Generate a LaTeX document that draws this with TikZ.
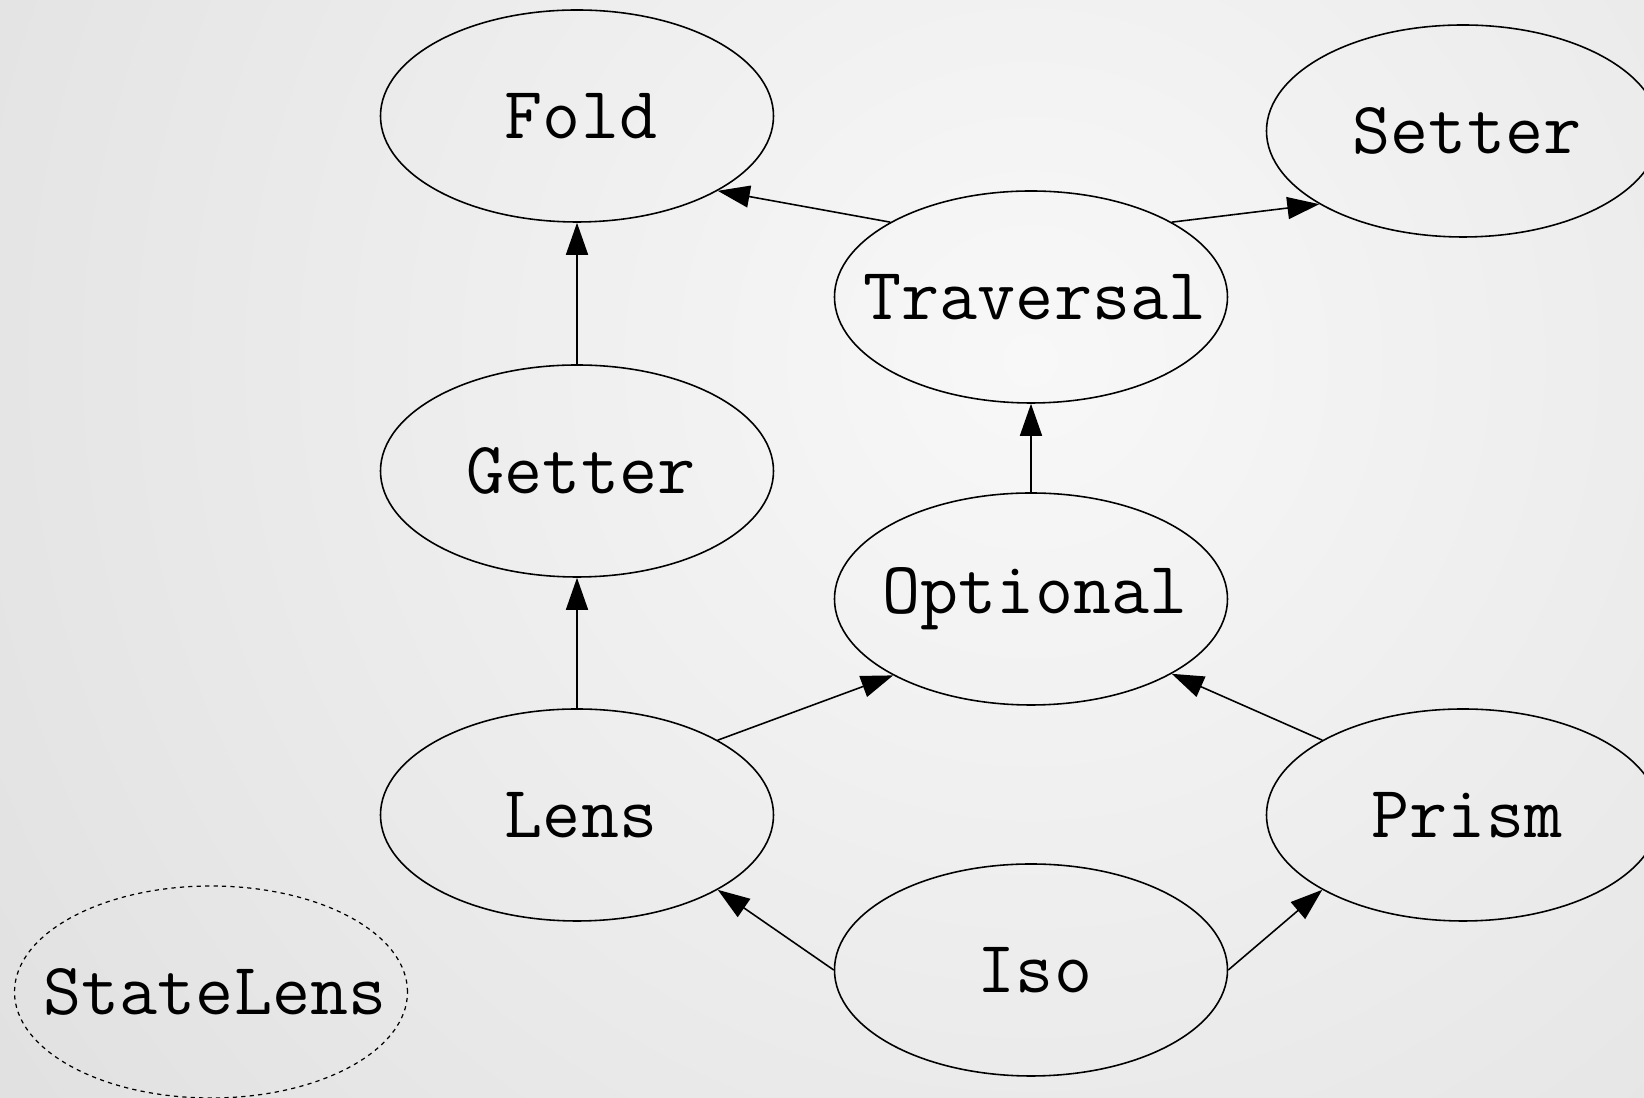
\documentclass[tikz,border=0pt]{standalone}
\usepackage{tikz}
\usepackage{fontspec}
\usetikzlibrary{shapes.geometric,arrows.meta}
\usepackage{xcolor}
\definecolor{bginner}{RGB}{248,248,248}
\definecolor{bgouter}{RGB}{224,224,224}
\newcommand{\optname}[1]{\makebox[0pt]{\hspace{0.08cm}#1}}

\begin{document}
\begin{tikzpicture}[
        optic/.style={ellipse, draw, line width=0.45pt, minimum width=3.93cm, minimum height=2.12cm, inner sep=0pt, font=\ttfamily\fontsize{21}{23}\selectfont},
        ghost/.style={optic, dashed, dash pattern=on 1.2pt off 1.2pt, line width=0.35pt},
        edge/.style={line width=0.45pt, -{Triangle[length=3.2mm,width=2.2mm]}}
    ]
        \useasboundingbox (0,0) rectangle (16.44,-10.98);

        \begin{scope}
            \clip (0,0) rectangle (16.44,-10.98);
            \shade[inner color=bginner, outer color=bgouter] (10.3,-3.6) circle (13);
        \end{scope}

        \node[optic] (fold) at (5.77,-1.16) {\optname{Fold}};
        \node[optic] (setter) at (14.63,-1.31) {\optname{Setter}};
        \node[optic] (traversal) at (10.31,-2.97) {\optname{Traversal}};
        \node[optic] (getter) at (5.77,-4.71) {\optname{Getter}};
        \node[optic] (optional) at (10.31,-5.99) {\optname{Optional}};
        \node[optic] (lens) at (5.77,-8.15) {\optname{Lens}};
        \node[optic] (prism) at (14.63,-8.15) {\optname{Prism}};
        \node[optic] (iso) at (10.31,-9.70) {\optname{Iso}};

        \node[ghost] (statelens) at (2.11,-9.92) {\optname{StateLens}};

        \draw[edge] (traversal.152) -- (fold.332);
        \draw[edge] (traversal.28) -- (setter.207);
        \draw[edge] (getter.north) -- (fold.south);
        \draw[edge] (optional.north) -- (traversal.south);
        \draw[edge] (lens.north) -- (getter.south);
        \draw[edge] (lens.28) -- (optional.209);
        \draw[edge] (prism.152) -- (optional.332);
        \draw[edge] (iso.west) -- (lens.332);
        \draw[edge] (iso.east) -- (prism.208);
    \end{tikzpicture}
\end{document}
